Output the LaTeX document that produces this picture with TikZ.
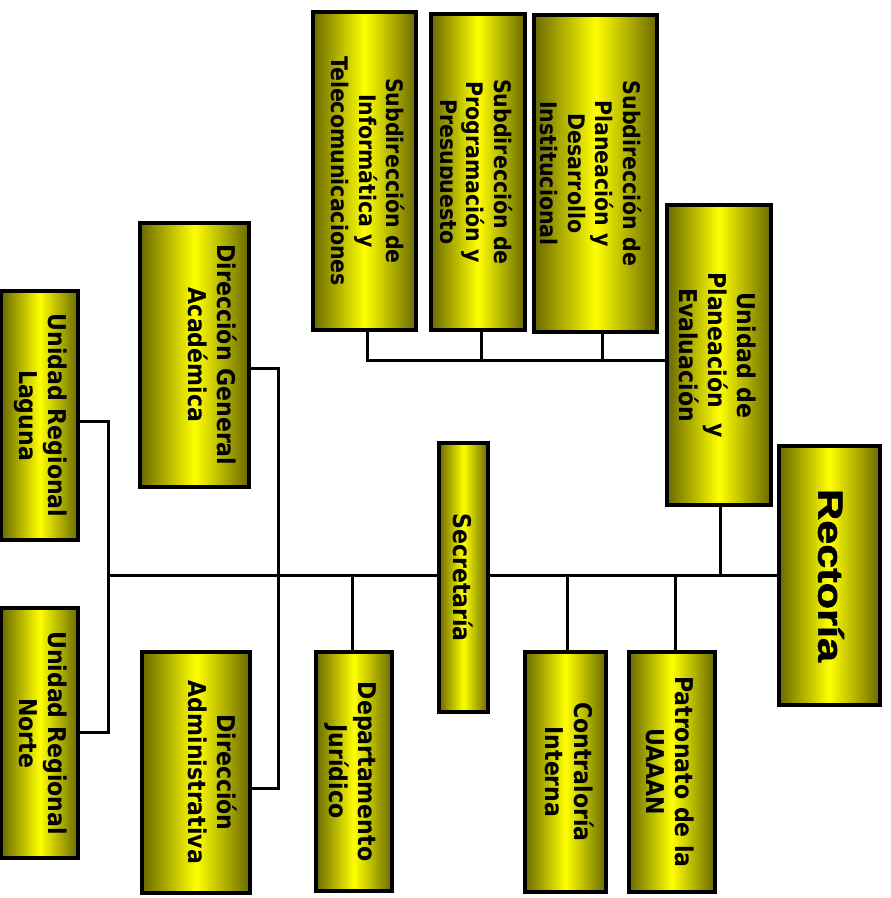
\documentclass[tikz,border=0pt]{standalone}
\usepackage{fontspec}
\usepackage{graphicx}
\newfontfamily\orgfont{DejaVu Sans Condensed}
\newfontfamily\headfont[BoldFeatures={FakeBold=1.6}]{Liberation Sans}
\usetikzlibrary{backgrounds}
\definecolor{boxedge}{RGB}{105,105,0}
\definecolor{boxmid}{RGB}{255,255,0}
% text turned a quarter clockwise; optional argument moves it right
\newcommand{\vtext}[2][0pt]{\rotatebox{-90}{\raisebox{#1}[\height][\depth]{\begin{tabular}{@{}c@{}}#2\end{tabular}}}}
\begin{document}
\begin{tikzpicture}[x=1pt,y=-1pt,
  orgbox/.style={draw=black, line width=3.5pt, left color=boxedge, right color=boxedge,
    middle color=boxmid, inner sep=0pt, font=\orgfont\bfseries\fontsize{24.5}{29}\selectfont},
  subbox/.style={orgbox, font=\orgfont\bfseries\fontsize{22.8}{27.5}\selectfont},
  subtext/.style={inner sep=0pt, font=\orgfont\bfseries\fontsize{22.8}{27.5}\selectfont},
  link/.style={draw=black, line width=3pt}]
\useasboundingbox (0,0) rectangle (891,898);

% upper row: the three subdirections
\node[subbox, minimum width=103pt, minimum height=318pt] (subInf) at (364.5,171)
  {\vtext{Subdirección de\\Informática y\\Telecomunicaciones}};
\node[subbox, minimum width=94pt, minimum height=316pt] (subProg) at (478,172)
  {\vtext[-6pt]{Subdirección de\\Programación y\\\phantom{Presupuesto}}};
% last line runs past the box's text area and is cut at its baseline
\begin{scope}
  \clip (440.5,14) rectangle (525,330);
  \node[subtext] (subProgTail) at ([xshift=-32.5pt]subProg.center)
    {\vtext{Presupuesto}};
\end{scope}
\node[subbox, minimum width=123pt, minimum height=317pt] (subPlan) at (595.5,173.5)
  {\vtext[-8pt]{Subdirección de\\Planeación y\\Desarrollo\\Institucional}};

\node[orgbox, minimum width=104pt, minimum height=300pt] (upe) at (719,355)
  {\vtext[-5pt]{Unidad de\\Planeación\ \ y\\Evaluación}};
\node[orgbox, minimum width=101pt, minimum height=259pt,
  font=\headfont\bfseries\fontsize{35}{41}\selectfont] (rect) at (829.5,575.5)
  {\vtext[-3pt]{\scalebox{1.235}[1]{Rectoría}}};

% left side
\node[orgbox, minimum width=109pt, minimum height=264pt] (dga) at (194.5,355)
  {\vtext[14pt]{Dirección General\\Académica}};
\node[orgbox, minimum width=76.5pt, minimum height=249pt] (url) at (39.75,415.5)
  {\vtext{Unidad Regional\\Laguna}};
\node[orgbox, minimum width=76.5pt, minimum height=250pt] (urn) at (39.75,733)
  {\vtext{Unidad Regional\\Norte}};
\node[orgbox, minimum width=108pt, minimum height=241pt] (dad) at (196,772.5)
  {\vtext[12.5pt]{Dirección\\Administrativa}};

% lower row
\node[orgbox, minimum width=76pt, minimum height=239pt] (dj) at (354,771.5)
  {\vtext[-4.5pt]{Departamento\\Jurídico}};
\node[orgbox, minimum width=49pt, minimum height=269pt] (sec) at (463.5,577.5)
  {\vtext[-4.5pt]{Secretaría}};
\node[orgbox, minimum width=81pt, minimum height=240pt] (ci) at (565.5,772)
  {\vtext{Contraloría\\Interna}};
\node[orgbox, minimum width=86pt, minimum height=240pt] (pat) at (672,772)
  {\vtext[-5.5pt]{Patronato de la\\UAAAN}};

% junction points
\coordinate (jL) at (108,575.5);
\coordinate (jD) at (278,575.5);
\coordinate (jS) at ([yshift=-5pt]upe.west);

\begin{scope}[on background layer]
  \draw[link] (rect.west) -- (jL);
  \draw[link] ([yshift=-5.5pt]url.east) -| (jL);
  \draw[link] ([yshift=1pt]urn.east) -| (jL);
  \draw[link] ([yshift=-13pt]dga.east) -| (jD);
  \draw[link] ([yshift=-15.5pt]dad.east) -| (jD);
  \draw[link] ([xshift=-2pt]dj.north) -- ([xshift=-2pt]dj.north |- jL);
  \draw[link] ([xshift=1.5pt]ci.north) -- ([xshift=1.5pt]ci.north |- jL);
  \draw[link] ([xshift=3pt]pat.north) -- ([xshift=3pt]pat.north |- jL);
  \draw[link] ([xshift=1pt]upe.south) -- ([xshift=1pt]upe.south |- jL);
  \draw[link] ([xshift=3pt]subInf.south) |- (jS);
  \draw[link] ([xshift=3pt]subProg.south) -- ([xshift=3pt]subProg.south |- jS);
  \draw[link] ([xshift=6.5pt]subPlan.south) -- ([xshift=6.5pt]subPlan.south |- jS);
\end{scope}
\end{tikzpicture}
\end{document}
